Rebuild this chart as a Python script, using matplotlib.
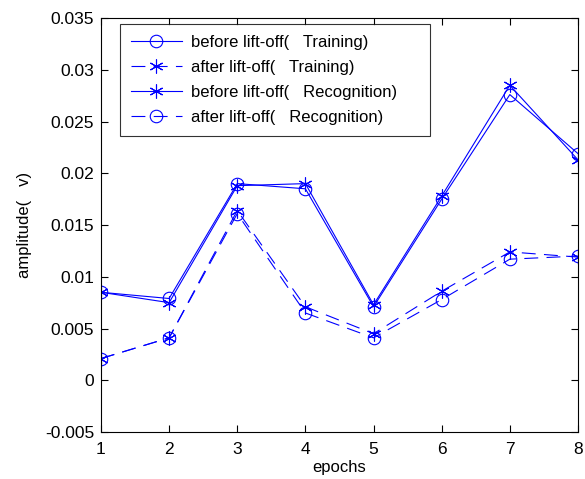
import matplotlib
matplotlib.use("Agg")
import matplotlib.pyplot as plt

plt.rcParams['font.family'] = ['Liberation Sans', 'Noto Sans CJK SC', 'DejaVu Sans']
plt.rcParams['lines.scale_dashes'] = False

epochs = [1, 2, 3, 4, 5, 6, 7, 8]
before_training = [0.0085, 0.0079, 0.0190, 0.0185, 0.0071, 0.0175, 0.0276, 0.0219]
after_training = [0.0021, 0.0041, 0.0164, 0.0071, 0.0045, 0.0086, 0.0124, 0.0119]
before_recognition = [0.0085, 0.0075, 0.0188, 0.0190, 0.0073, 0.0178, 0.0285, 0.0213]
after_recognition = [0.0021, 0.0041, 0.0161, 0.0065, 0.0041, 0.0078, 0.0117, 0.0120]

labels = [
    "before lift-off(   Training)",
    "after lift-off(   Training)",
    "before lift-off(   Recognition)",
    "after lift-off(   Recognition)",
]
yticks = [-0.005, 0, 0.005, 0.01, 0.015, 0.02, 0.025, 0.03, 0.035]
ytick_labels = ["-0.005", "0", "0.005", "0.01", "0.015", "0.02", "0.025", "0.03", "0.035"]

fig = plt.figure(figsize=(5.85, 4.79), dpi=100)
ax = fig.add_axes([0.1726, 0.0981, 0.8154, 0.8643])

blue = (0, 0, 1)
dash = (0, (10, 6))
asterisk = (6, 2, 0)
common = dict(color=blue, linewidth=0.8, markerfacecolor='none',
              markeredgecolor=blue, markeredgewidth=0.8)
ax.plot(epochs, before_training, linestyle='-', marker='o', markersize=9,
        label=labels[0], **common)
ax.plot(epochs, after_training, linestyle=dash, marker=asterisk, markersize=10,
        label=labels[1], **common)
ax.plot(epochs, before_recognition, linestyle='-', marker=asterisk, markersize=10,
        label=labels[2], **common)
ax.plot(epochs, after_recognition, linestyle=dash, marker='o', markersize=9,
        label=labels[3], **common)

ax.set_xlim(1, 8)
ax.set_ylim(-0.005, 0.035)
ax.set_xticks(epochs)
ax.set_yticks(yticks)
ax.set_yticklabels(ytick_labels)
ax.tick_params(direction='in', top=True, right=True, length=5, width=0.8,
               labelsize=12.5)
ax.tick_params(axis='x', pad=7)
ax.tick_params(axis='y', pad=5)
for s in ax.spines.values():
    s.set_linewidth(0.8)

ax.set_xlabel("epochs", fontsize=12, labelpad=2)
ax.set_ylabel("amplitude(   v)", fontsize=12, labelpad=9)

leg = ax.legend(loc='upper left', bbox_to_anchor=(0.04, 0.5, 0.65, 0.485),
                mode='expand', borderaxespad=0,
                fontsize=12, frameon=True, fancybox=False, handlelength=3.05,
                labelspacing=0.6, borderpad=0.65, handletextpad=0.55)
leg.get_frame().set_edgecolor('black')
leg.get_frame().set_linewidth(0.8)

fig.savefig("out.png", dpi=100)
